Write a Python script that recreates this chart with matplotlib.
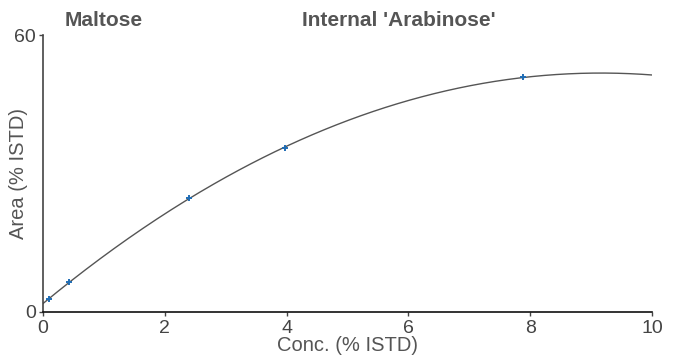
import numpy as np
import matplotlib.pyplot as plt

plt.rcParams['font.family'] = ['Liberation Sans', 'DejaVu Sans']

# calibration points for maltose
conc = [0.10, 0.42, 2.40, 3.97, 7.88]
area = [2.8, 6.4, 24.7, 35.6, 50.8]

x_ticks = [0, 2, 4, 6, 8, 10]
y_ticks = [0, 60]

# quadratic calibration fit through the points
coef = np.polyfit(conc, area, 2)
xs = np.linspace(0, 10, 300)
ys = np.polyval(coef, xs)

fig = plt.figure(figsize=(6.76, 3.58), dpi=100)
ax = fig.add_axes([43 / 676, 46 / 358, 609 / 676, 277 / 358])

ax.plot(xs, ys, color='#555555', lw=1.0, zorder=2)
ax.plot(conc, area, '+', color='#1f6db5', ms=4.5, mew=1.4, zorder=3)

ax.set_xlim(0, 10)
ax.set_ylim(0, 60)
ax.set_xticks(x_ticks)
ax.set_yticks(y_ticks)

for s in ['top', 'right']:
    ax.spines[s].set_visible(False)
ax.spines['bottom'].set_color('#111111')
ax.spines['left'].set_color('#444444')
ax.spines['bottom'].set_linewidth(1.2)
ax.spines['left'].set_linewidth(1.2)
ax.tick_params(length=3, width=1, colors='#444444', labelsize=14, pad=2)
ax.tick_params(axis='x', pad=3)

ax.set_xlabel('Conc. (% ISTD)', fontsize=14.5, color='#555555', labelpad=-1)
ax.set_ylabel('Area (% ISTD)', fontsize=14.5, color='#555555', labelpad=-10)

fig.text(65 / 676, 1 - 21 / 358, 'Maltose', fontsize=15, fontweight='bold',
         color='#555555', va='center')
fig.text(302 / 676, 1 - 21 / 358, "Internal 'Arabinose'", fontsize=15,
         fontweight='bold', color='#555555', va='center')

fig.savefig('out.png', dpi=100)
